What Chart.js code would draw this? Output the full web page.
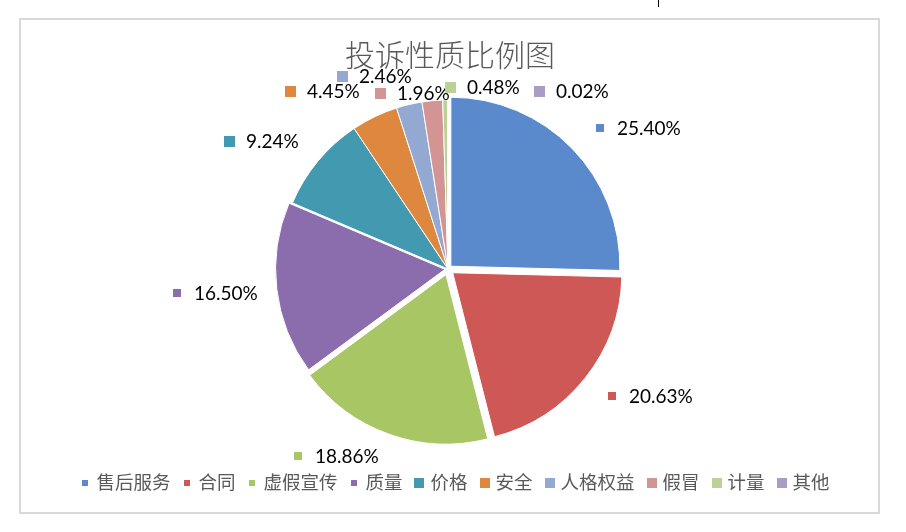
<!DOCTYPE html>
<html lang="zh-CN">
<head>
<meta charset="utf-8">
<title>投诉性质比例图</title>
<script src="https://cdn.jsdelivr.net/npm/chart.js@4.4.1/dist/chart.umd.min.js"></script>
<style>
  html, body { margin: 0; padding: 0; background: #fff; }
  #wrap { position: relative; width: 906px; height: 532px; overflow: hidden; }
  #frame { position: absolute; left: 19px; top: 18px; width: 857px; height: 492px; border: 2px solid #d9d9d9; }
  #cursor { position: absolute; left: 658px; top: 0; width: 1px; height: 7px; background: #000; }
  #chart { position: absolute; left: 0; top: 0; }
</style>
</head>
<body>
<div id="wrap">
  <div id="frame"></div>
  <div id="cursor"></div>
  <canvas id="chart" width="906" height="532"></canvas>
</div>
<script>
/* ---------------- data ---------------- */
const TITLE = '投诉性质比例图';
const CATEGORIES = ['售后服务', '合同', '虚假宣传', '质量', '价格', '安全', '人格权益', '假冒', '计量', '其他'];
const SHARES = [25.40, 20.63, 18.86, 16.50, 9.24, 4.45, 2.46, 1.96, 0.48, 0.02];

/* ---------------- styling ---------------- */
const COLORS = ['#5a8acb', '#cd5855', '#a8c664', '#8b6dad', '#4399b0',
                '#dd873f', '#94a9d1', '#d39494', '#bbd198', '#a99cc5'];
// chart.js moves a slice by offset/4 px
const EXPLODE = [16, 24, 24, 12, 0, 0, 0, 0, 0, 0];
// data label key centre, relative to the pie centre (hand placed in the original)
const LABEL_POS = [
  [152, -141], [164, 127], [-150, 187], [-271, 24], [-219, -128],
  [-158, -178], [-106, -193], [-68, -176], [2, -182], [91, -178],
];
const LABEL_FONT = '19px Lato, "Liberation Sans", sans-serif';
const LEGEND_FONT = '18.5px "Noto Sans CJK SC", sans-serif';
const TITLE_FONT = '300 30px "Noto Sans CJK SC", sans-serif';
const TEXT_GREY = '#595959';

function keySize(i, small, big) {
  return i < 4 ? small : big;
}

// ---------------- title, labels, legend ----------------
const decorations = {
  id: 'decorations',
  afterDraw(chart) {
    const ctx = chart.ctx;
    const area = chart.chartArea;
    const cx = (area.left + area.right) / 2;
    const cy = (area.top + area.bottom) / 2;
    const values = chart.data.datasets[0].data;
    const total = values.reduce((a, b) => a + b, 0);

    ctx.save();

    // title
    ctx.fillStyle = TEXT_GREY;
    ctx.font = TITLE_FONT;
    ctx.textAlign = 'center';
    ctx.textBaseline = 'middle';
    ctx.fillText(TITLE, cx + 2, 55);

    // data labels: little colour key + percentage
    ctx.font = LABEL_FONT;
    ctx.textAlign = 'left';
    values.forEach((v, i) => {
      const [dx, dy] = LABEL_POS[i];
      const kx = cx + dx, ky = cy + dy;
      const s = keySize(i, 8, 11);
      ctx.fillStyle = COLORS[i];
      ctx.fillRect(Math.round(kx - s / 2), Math.round(ky - s / 2), s, s);
      ctx.fillStyle = '#000';
      ctx.fillText((v / total * 100).toFixed(2) + '%', kx + 17, ky + 1);
    });

    // legend row along the bottom
    ctx.font = LEGEND_FONT;
    const labels = chart.data.labels;
    const widths = labels.map(l => ctx.measureText(l).width);
    const gap = 17;
    let full = 5;
    widths.forEach((w, i) => { full += 11 + w + (i < widths.length - 1 ? gap : 0); });
    let x = chart.width / 2 + 2 - full / 2 + 5;
    const ly = 482;
    labels.forEach((l, i) => {
      const s = keySize(i, 6, 10);
      ctx.fillStyle = COLORS[i];
      ctx.fillRect(Math.round(x - s / 2), Math.round(ly - s / 2 + 1), s, s);
      ctx.fillStyle = TEXT_GREY;
      ctx.fillText(l, x + 11, ly);
      x += 11 + widths[i] + gap;
    });

    ctx.restore();
  },
};

// ---------------- pie ----------------
new Chart(document.getElementById('chart'), {
  type: 'pie',
  data: {
    labels: CATEGORIES,
    datasets: [{
      data: SHARES,
      backgroundColor: COLORS,
      borderColor: '#fff',
      borderWidth: 1,
      offset: EXPLODE,
    }],
  },
  options: {
    responsive: false,
    animation: false,
    radius: 169,
    layout: { padding: { left: 268, right: 278, top: 89, bottom: 83 } },
    plugins: {
      legend: { display: false },
      title: { display: false },
      tooltip: { enabled: false },
    },
  },
  plugins: [decorations],
});
</script>
</body>
</html>
